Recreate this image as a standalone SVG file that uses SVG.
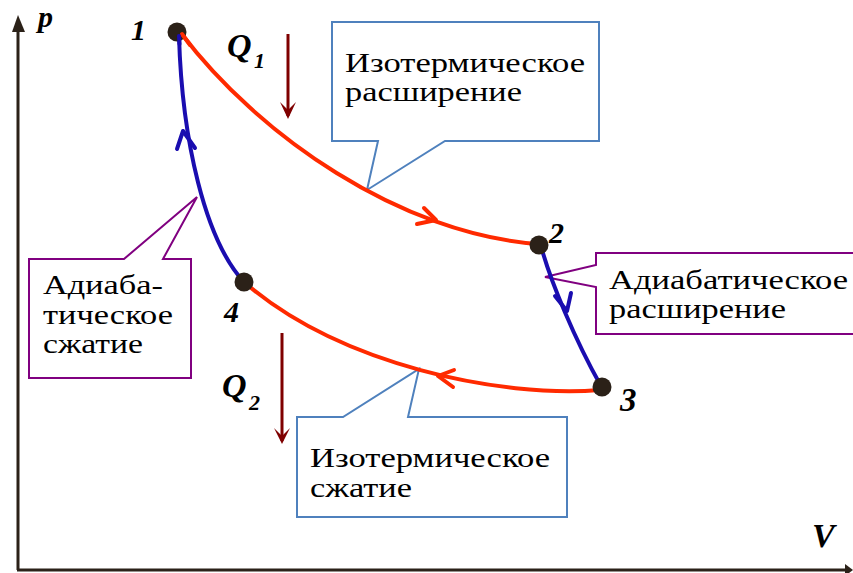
<svg xmlns="http://www.w3.org/2000/svg" width="853" height="573" viewBox="0 0 853 573">
<style>
.lbl{font-family:"Liberation Serif","DejaVu Serif","Times New Roman",serif;font-weight:bold;font-style:italic;fill:#000}
.txt{font-family:"Liberation Serif","DejaVu Serif","Times New Roman",serif;font-size:28px;fill:#000}
.blue-c{fill:#fff;stroke:#4f81bd;stroke-width:2}
.purp-c{fill:#fff;stroke:#800080;stroke-width:2}
.iso{fill:none;stroke:#ff2a00;stroke-width:4;stroke-linecap:round;stroke-linejoin:round}
.adi{fill:none;stroke:#1a0db0;stroke-width:4;stroke-linecap:round;stroke-linejoin:round}
.pt{fill:#2b2118}
.axis{stroke:#2b2118;stroke-width:3;fill:none}
.q{stroke:#7f0000;stroke-width:3;fill:none}
</style>
<rect width="853" height="573" fill="#fff"/>
<g id="axes">
<line class="axis" x1="18" y1="30" x2="18" y2="570"/>
<line class="axis" x1="17" y1="570" x2="846" y2="570"/>
<polygon points="18,15 12,32 25,32" fill="#2b2118"/>
<polygon points="853,570 845,564 845,576" fill="#2b2118"/>
<text class="lbl" x="38" y="27" font-size="30">p</text>
<text class="lbl" x="812" y="547" font-size="34">V</text>
</g>
<g id="callout-iso-exp">
<path class="blue-c" d="M332,22 H599 V141 H445 L367,190 L378,141 H332 Z"/>
<text class="txt" x="345" y="72" textLength="240" lengthAdjust="spacingAndGlyphs">Изотермическое</text>
<text class="txt" x="345" y="101" textLength="177" lengthAdjust="spacingAndGlyphs">расширение</text>
</g>
<g id="callout-adi-exp">
<path class="purp-c" d="M596,253 H858 V334 H596 V287 L545,277 L596,265 Z"/>
<text class="txt" x="609" y="289" textLength="239" lengthAdjust="spacingAndGlyphs">Адиабатическое</text>
<text class="txt" x="609" y="318" textLength="177" lengthAdjust="spacingAndGlyphs">расширение</text>
</g>
<g id="callout-adi-comp">
<path class="purp-c" d="M29,259 H124 L197,197 L163,259 H191 V378 H29 Z"/>
<text class="txt" x="43" y="294" textLength="120" lengthAdjust="spacingAndGlyphs">Адиаба-</text>
<text class="txt" x="43" y="324" textLength="130" lengthAdjust="spacingAndGlyphs">тическое</text>
<text class="txt" x="43" y="353" textLength="100" lengthAdjust="spacingAndGlyphs">сжатие</text>
</g>
<g id="callout-iso-comp">
<path class="blue-c" d="M297,417 H343 L419,369 L408,417 H567 V517 H297 Z"/>
<text class="txt" x="310" y="467" textLength="240" lengthAdjust="spacingAndGlyphs">Изотермическое</text>
<text class="txt" x="310" y="497" textLength="102" lengthAdjust="spacingAndGlyphs">сжатие</text>
</g>
<g id="connectors">
<path class="iso" d="M181,33 C258,135 400,234 538,244"/>
<path class="iso" d="M424,208 L436,220 L417,224"/>
<path class="iso" d="M600,390 C500,398 340,365 244,282"/>
<path class="iso" d="M454,370 L438,376 L453,387"/>
<path class="adi" d="M244,282 C205,240 182,140 179,36"/>
<path class="adi" d="M177,149 L183,131 L195,148"/>
<path class="adi" d="M541,246 C550,280 575,340 601,386"/>
<path class="adi" d="M555,296 L567,311 L571,293"/>
</g>
<g id="heat-q1">
<line class="q" x1="288" y1="34" x2="288" y2="116"/>
<path d="M280,102 L288,119 L296,102 L288,110 Z" fill="#7f0000"/>
<text class="lbl" x="227" y="57" font-size="34">Q</text>
<text class="lbl" x="254" y="68" font-size="22">1</text>
</g>
<g id="heat-q2">
<line class="q" x1="282" y1="333" x2="282" y2="441"/>
<path d="M274,428 L282,444 L290,428 L282,436 Z" fill="#7f0000"/>
<text class="lbl" x="222" y="397" font-size="34">Q</text>
<text class="lbl" x="249" y="410" font-size="22">2</text>
</g>
<g id="node-1">
<circle class="pt" cx="177" cy="32" r="9.5"/>
<text class="lbl" x="131" y="40" font-size="30">1</text>
</g>
<g id="node-2">
<circle class="pt" cx="539" cy="245" r="9.5"/>
<text class="lbl" x="549" y="243" font-size="30">2</text>
</g>
<g id="node-3">
<circle class="pt" cx="602" cy="387" r="9.5"/>
<text class="lbl" x="620" y="411" font-size="33">3</text>
</g>
<g id="node-4">
<circle class="pt" cx="244" cy="282" r="9.5"/>
<text class="lbl" x="224" y="322" font-size="30">4</text>
</g>
<g id="overlay-lines">
<path class="iso" d="M182,34 L190,45"/>
<path class="adi" d="M179,36 L179.5,44"/>
</g>
</svg>
